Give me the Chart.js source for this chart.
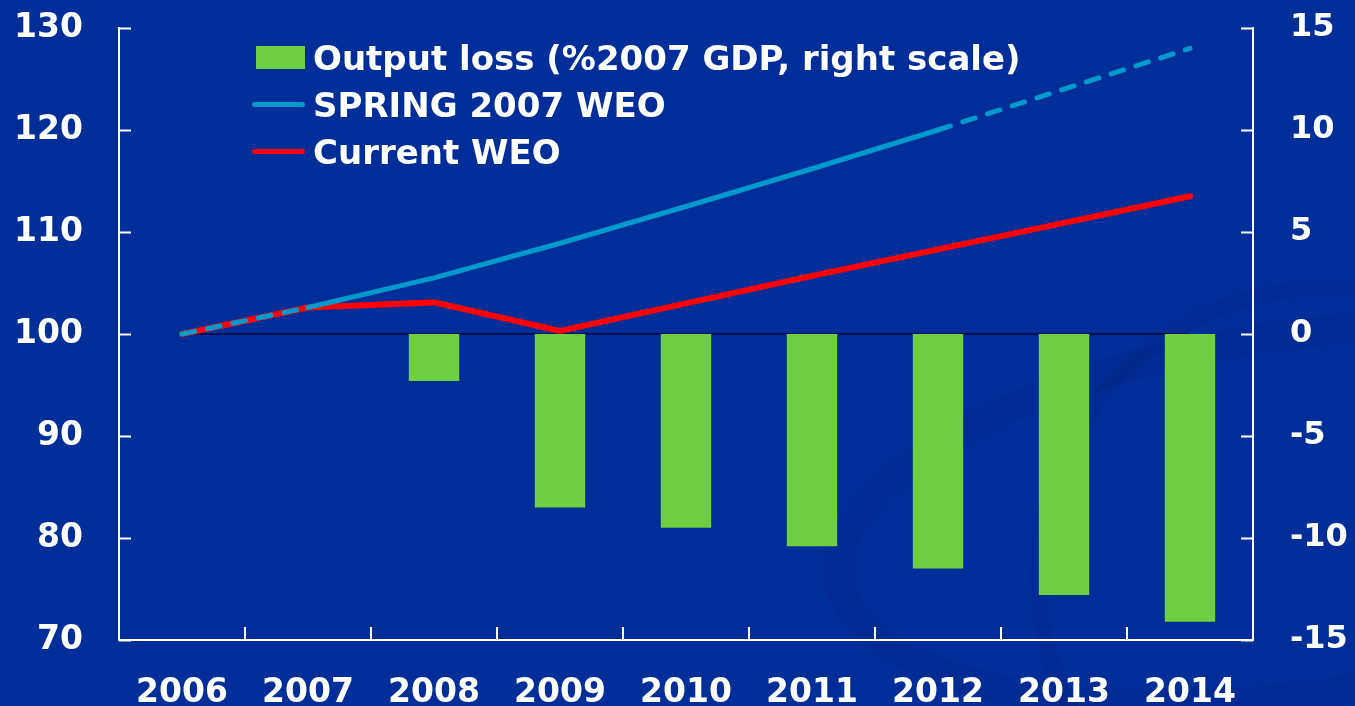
<!DOCTYPE html>
<html>
<head>
<meta charset="utf-8">
<title>Output loss</title>
<script src="https://cdn.jsdelivr.net/npm/chart.js@4.4.1/dist/chart.umd.min.js"></script>
<style>
  html, body { margin: 0; padding: 0; }
  body {
    width: 1355px; height: 706px; overflow: hidden; position: relative;
    background: #002e99;
    font-family: "DejaVu Sans", Verdana, sans-serif; font-weight: bold;
  }
  .swoosh {
    position: absolute; border-radius: 50%;
    border: 30px solid rgba(0, 20, 90, 0.10);
  }
  #wrap { position: absolute; left: 0; top: 0; width: 1355px; height: 706px; }
  #legend { position: absolute; left: 252px; top: 34px; color: #fff; font-size: 34px; }
  .row { height: 47px; display: flex; align-items: center; white-space: nowrap; }
  .key { width: 53px; margin-right: 8px; display: flex; align-items: center; justify-content: flex-end; }
  .box { width: 49px; height: 23px; background: #6dcf41; }
  .line { width: 53px; height: 5px; border-radius: 3px; }
</style>
</head>
<body>
<div class="swoosh" style="left:820px; top:320px; width:900px; height:330px; transform:rotate(-8deg);"></div>
<div class="swoosh" style="left:1030px; top:280px; width:560px; height:560px; border-width:16px;"></div>
<div id="wrap"><canvas id="lossChart" width="1355" height="706"></canvas></div>
<div id="legend"></div>

<script>
// chart data
const years = ["2006", "2007", "2008", "2009", "2010", "2011", "2012", "2013", "2014"];
const outputLoss = [null, null, -2.3, -8.5, -9.5, -10.4, -11.5, -12.8, -14.1];
const spring2007 = [100, 102.6, 105.5, 108.9, 112.5, 116.2, 120.0, 124.0, 128.0];
const currentWeo = [100, 102.6, 103.1, 100.3, 103.0, 105.7, 108.3, 110.9, 113.5];

const leftRange = [70, 130, 10];
const rightRange = [-15, 15, 5];

const labelFont = { family: "'DejaVu Sans', Verdana, sans-serif", size: 33, weight: "bold" };
const rightFont = { family: "'DejaVu Sans', Verdana, sans-serif", size: 32, weight: "bold" };

//legend built as html so the plot area keeps its size
const legendItems = [
  { text: "Output loss (%2007 GDP, right scale)", type: "box" },
  { text: "SPRING 2007 WEO", type: "line", color: "#0099cc" },
  { text: "Current WEO", type: "line", color: "#ff0000" }
];
const legendDiv = document.getElementById("legend");
legendItems.forEach(item => {
  const row = document.createElement("div");
  row.className = "row";
  const key = document.createElement("span");
  key.className = "key";
  const mark = document.createElement("span");
  if (item.type === "box") {
    mark.className = "box";
  } else {
    mark.className = "line";
    mark.style.background = item.color;
  }
  key.appendChild(mark);
  const label = document.createElement("span");
  label.textContent = item.text;
  row.appendChild(key);
  row.appendChild(label);
  legendDiv.appendChild(row);
});

//ticks point into the plot, plus the thin zero line
const inwardTicks = {
  id: "inwardTicks",
  afterDatasetsDraw(chart) {
    const { ctx, chartArea, scales } = chart;
    ctx.save();
    ctx.strokeStyle = "#ffffff";
    ctx.lineWidth = 2;
    ctx.beginPath();
    scales.y.ticks.forEach((t, i) => {
      const y = Math.round(scales.y.getPixelForTick(i)) + 0.5;
      ctx.moveTo(chartArea.left, y);
      ctx.lineTo(chartArea.left + 12, y);
    });
    scales.y1.ticks.forEach((t, i) => {
      const y = Math.round(scales.y1.getPixelForTick(i)) + 0.5;
      ctx.moveTo(chartArea.right, y);
      ctx.lineTo(chartArea.right - 12, y);
    });
    for (let i = 1; i < years.length; i++) {
      const x = Math.round((scales.x.getPixelForValue(i - 1) + scales.x.getPixelForValue(i)) / 2);
      ctx.moveTo(x, chartArea.bottom);
      ctx.lineTo(x, chartArea.bottom - 13);
    }
    ctx.stroke();
    ctx.restore();
  },
  beforeDatasetsDraw(chart) {
    const { ctx, scales } = chart;
    const y0 = scales.y1.getPixelForValue(0);
    ctx.save();
    ctx.strokeStyle = "#000a3a";
    ctx.lineWidth = 1.5;
    ctx.beginPath();
    ctx.moveTo(scales.x.getPixelForValue(0), y0);
    ctx.lineTo(scales.x.getPixelForValue(years.length - 1), y0);
    ctx.stroke();
    ctx.restore();
  }
};

//fixed axis sizes so the plot area sits where the picture has it
function fixVertical(width) {
  return s => {
    s.width = width;
    s.paddingTop = 28;
    s.paddingBottom = 0;
  };
}

const ctx = document.getElementById("lossChart").getContext("2d");

const lossChart = new Chart(ctx, {
  data: {
    labels: years,
    datasets: [
      {
        type: "line",
        label: "SPRING 2007 WEO",
        data: spring2007,
        yAxisID: "y",
        borderColor: "#0099cc",
        borderWidth: 5,
        borderCapStyle: "round",
        pointRadius: 0,
        tension: 0,
        segment: {
          borderDash: c => (c.p0DataIndex < 1 || c.p0DataIndex >= 6) ? [13, 13] : undefined
        },
        order: 1
      },
      {
        type: "line",
        label: "Current WEO",
        data: currentWeo,
        yAxisID: "y",
        borderColor: "#ff0000",
        borderWidth: 6,
        borderCapStyle: "round",
        borderJoinStyle: "miter",
        pointRadius: 0,
        tension: 0,
        order: 2
      },
      {
        type: "bar",
        label: "Output loss (%2007 GDP, right scale)",
        data: outputLoss,
        yAxisID: "y1",
        backgroundColor: "#6dcf41",
        categoryPercentage: 1,
        barPercentage: 0.4,
        order: 3
      }
    ]
  },
  options: {
    responsive: false,
    animation: false,
    layout: { padding: { top: 0, left: 0, right: 0, bottom: 0 } },
    plugins: {
      legend: { display: false },
      tooltip: { enabled: false }
    },
    scales: {
      x: {
        offset: true,
        grid: { display: false, offset: true },
        border: { display: true, color: "#ffffff", width: 2 },
        ticks: { color: "#ffffff", font: labelFont, padding: 26, maxRotation: 0, autoSkip: false },
        afterFit: s => { s.height = 66; }
      },
      y: {
        position: "left",
        min: leftRange[0],
        max: leftRange[1],
        grid: { display: false },
        border: { display: true, color: "#ffffff", width: 2 },
        ticks: { stepSize: leftRange[2], color: "#ffffff", font: labelFont, padding: 28 },
        afterFit: fixVertical(119)
      },
      y1: {
        position: "right",
        min: rightRange[0],
        max: rightRange[1],
        grid: { display: false },
        border: { display: true, color: "#ffffff", width: 2 },
        ticks: { stepSize: rightRange[2], color: "#ffffff", font: rightFont, padding: 29 },
        afterFit: fixVertical(102)
      }
    }
  },
  plugins: [inwardTicks]
});
</script>
</body>
</html>
